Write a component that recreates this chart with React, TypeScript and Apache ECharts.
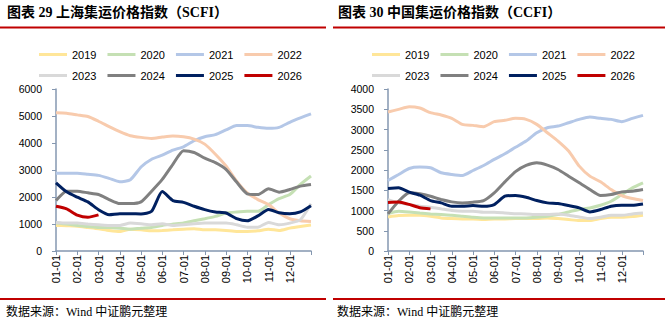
import React, { useEffect, useRef } from "react";
import * as echarts from "echarts";

const MONTH_LABELS = ["01-01", "02-01", "03-01", "04-01", "05-01", "06-01", "07-01", "08-01", "09-01", "10-01", "11-01", "12-01"];
const YEARS = ["2019", "2020", "2021", "2022", "2023", "2024", "2025", "2026"];
const COLORS = ["#FFE699", "#C5E0B4", "#B4C7E7", "#F8CBAD", "#D9D9D9", "#808080", "#002060", "#C00000"];

// SCFI, half-month steps from 01-01
const SCFI_2019 = [946, 934, 920, 871, 822, 760, 722, 809, 784, 747, 760, 784, 809, 822, 784, 784, 760, 722, 722, 747, 809, 760, 847, 909, 960];
const SCFI_2020 = [1033, 996, 946, 909, 871, 871, 847, 809, 847, 871, 946, 996, 1040, 1120, 1195, 1282, 1407, 1444, 1469, 1469, 1718, 1942, 2092, 2465, 2776];
const SCFI_2021 = [2876, 2876, 2876, 2839, 2800, 2690, 2565, 2640, 3112, 3400, 3548, 3735, 3860, 4083, 4233, 4308, 4482, 4644, 4644, 4580, 4544, 4580, 4768, 4930, 5080];
const SCFI_2022 = [5117, 5105, 5042, 4980, 4806, 4607, 4420, 4270, 4208, 4170, 4220, 4258, 4230, 4146, 3959, 3586, 3150, 2590, 2154, 1905, 1718, 1407, 1195, 1120, 1096];
const SCFI_2023 = [1058, 1033, 1033, 996, 971, 946, 946, 1033, 1008, 971, 1008, 946, 971, 1008, 1033, 1033, 1033, 971, 884, 884, 1058, 971, 1033, 1158, 1750];
const SCFI_2024 = [1868, 2216, 2216, 2154, 2092, 1905, 1755, 1755, 1818, 2216, 2652, 3212, 3710, 3648, 3436, 3274, 3025, 2552, 2117, 2092, 2303, 2179, 2278, 2403, 2465];
const SCFI_2025 = [2527, 2191, 1992, 1818, 1531, 1345, 1382, 1382, 1370, 1470, 2200, 1868, 1800, 1656, 1531, 1444, 1407, 1200, 1120, 1300, 1540, 1420, 1380, 1450, 1680];
const SCFI_2026 = [1656, 1560, 1330, 1250, 1340];

// CCFI, half-month steps from 01-01
const CCFI_2019 = [842, 875, 883, 883, 858, 817, 800, 792, 792, 776, 792, 792, 800, 800, 800, 817, 800, 776, 751, 751, 800, 833, 833, 850, 883];
const CCFI_2020 = [924, 982, 965, 940, 916, 899, 883, 858, 833, 817, 817, 817, 817, 817, 833, 858, 899, 965, 1023, 1064, 1130, 1229, 1394, 1559, 1683];
const CCFI_2021 = [1741, 1889, 2038, 2071, 2054, 1931, 1889, 1865, 1988, 2112, 2261, 2401, 2560, 2714, 2920, 3044, 3085, 3168, 3250, 3308, 3275, 3250, 3193, 3275, 3350];
const CCFI_2022 = [3432, 3498, 3564, 3530, 3415, 3358, 3275, 3127, 3102, 3069, 3193, 3226, 3275, 3250, 3127, 2920, 2714, 2467, 2095, 1848, 1708, 1518, 1370, 1295, 1246];
const CCFI_2023 = [1270, 1188, 1147, 1106, 1081, 1040, 998, 982, 982, 957, 957, 940, 920, 916, 899, 899, 916, 883, 841, 800, 833, 883, 883, 916, 940];
const CCFI_2024 = [916, 1229, 1436, 1411, 1353, 1270, 1213, 1188, 1205, 1246, 1436, 1708, 1960, 2112, 2178, 2120, 2013, 1848, 1683, 1518, 1370, 1394, 1460, 1477, 1518];
const CCFI_2025 = [1543, 1559, 1452, 1378, 1246, 1188, 1106, 1106, 1122, 1106, 1147, 1353, 1370, 1328, 1246, 1188, 1172, 1122, 1064, 965, 1023, 1106, 1130, 1130, 1163];
const CCFI_2026 = [1200, 1210, 1150, 1070, 1040];

const SCFI = [SCFI_2019, SCFI_2020, SCFI_2021, SCFI_2022, SCFI_2023, SCFI_2024, SCFI_2025, SCFI_2026];
const CCFI = [CCFI_2019, CCFI_2020, CCFI_2021, CCFI_2022, CCFI_2023, CCFI_2024, CCFI_2025, CCFI_2026];

const TITLE_LEFT = "图表 29 上海集运价格指数（SCFI）";
const TITLE_RIGHT = "图表 30 中国集运价格指数（CCFI）";
const SOURCE = "数据来源：Wind 中证鹏元整理";

const AXIS = "#8497B0";
const SANS = '"Liberation Sans", Arial, sans-serif';
const MIXED = '"Liberation Serif", "Noto Sans CJK SC", serif';

const STEP = 0.5; // months per point

function toPairs(arr: number[]) {
  return arr.map((v, i) => [i * STEP, v]);
}

export default function App() {
  const ref = useRef<HTMLDivElement>(null);
  useEffect(() => {
    document.body.style.margin = "0";
    const chart = echarts.init(ref.current!, undefined, { renderer: "svg" });

    const xAxisBase = (gridIndex: number) => ({
      type: "value",
      gridIndex,
      min: 0,
      max: 12,
      interval: 1,
      axisLine: { show: true, lineStyle: { color: AXIS, width: 1.5 } },
      axisTick: { show: true, length: 4, lineStyle: { color: AXIS } },
      axisLabel: {
        rotate: 90,
        margin: 4,
        fontSize: 11,
        fontFamily: SANS,
        color: "#000",
        formatter: (v: number) => MONTH_LABELS[Math.round(v)] ?? "",
      },
      splitLine: { show: false },
    });
    const yAxisBase = (gridIndex: number, max: number, interval: number) => ({
      type: "value",
      gridIndex,
      min: 0,
      max,
      interval,
      axisLine: { show: true, lineStyle: { color: AXIS, width: 1.5 } },
      axisTick: { show: true, length: 4, lineStyle: { color: AXIS } },
      axisLabel: {
        margin: 14,
        fontSize: 10.5,
        fontFamily: SANS,
        color: "#000",
        formatter: (v: number) => String(v),
      },
      splitLine: { show: false },
    });

    const mkSeries = (sets: number[][], idx: number) =>
      sets.map((arr, k) => ({
        type: "line",
        name: YEARS[k],
        xAxisIndex: idx,
        yAxisIndex: idx,
        data: toPairs(arr),
        showSymbol: false,
        symbol: "none",
        smooth: 0.2,
        lineStyle: { width: 3, color: COLORS[k] },
        itemStyle: { color: COLORS[k] },
        z: 2 + k,
      }));

    const legendBase = (left: number, top: number, data: string[]) => ({
      left,
      top,
      data,
      icon: "rect",
      itemWidth: 28,
      itemHeight: 3,
      itemGap: 11,
      textStyle: { fontSize: 11, fontFamily: SANS, color: "#000" },
      padding: 0,
    });

    const text = (x: number, y: number, t: string, size: number, weight: string) => ({
      type: "text",
      x,
      y,
      style: {
        text: t,
        font: `${weight} ${size}px ${MIXED}`,
        fill: "#000",
        textVerticalAlign: "middle",
        verticalAlign: "middle",
      },
    });
    const redLine = (x1: number, x2: number, y: number) => ({
      type: "line",
      shape: { x1, y1: y, x2, y2: y },
      style: { stroke: "#C00000", lineWidth: 2 },
    });

    chart.setOption({
      animation: false,
      backgroundColor: "#fff",
      grid: [
        { left: 56, top: 89, width: 255, height: 162 },
        { left: 388, top: 89, width: 255, height: 162 },
      ],
      xAxis: [xAxisBase(0), xAxisBase(1)],
      yAxis: [yAxisBase(0, 6000, 1000), yAxisBase(1, 4000, 500)],
      legend: [
        legendBase(39, 49, YEARS.slice(0, 4)),
        legendBase(39, 70, YEARS.slice(4)),
        legendBase(372, 49, YEARS.slice(0, 4)),
        legendBase(372, 70, YEARS.slice(4)),
      ],
      series: [...mkSeries(SCFI, 0), ...mkSeries(CCFI, 1)],
      graphic: [
        text(7, 12, TITLE_LEFT, 14, "bold"),
        text(338, 12, TITLE_RIGHT, 14, "bold"),
        redLine(0, 326, 27.5),
        redLine(333, 665, 27.5),
        redLine(0, 326, 299),
        redLine(333, 665, 299),
        text(6, 312, SOURCE, 12, "normal"),
        text(337, 312, SOURCE, 12, "normal"),
      ],
    });
    return () => chart.dispose();
  }, []);
  return <div ref={ref} style={{ width: 665, height: 326 }} />;
}
